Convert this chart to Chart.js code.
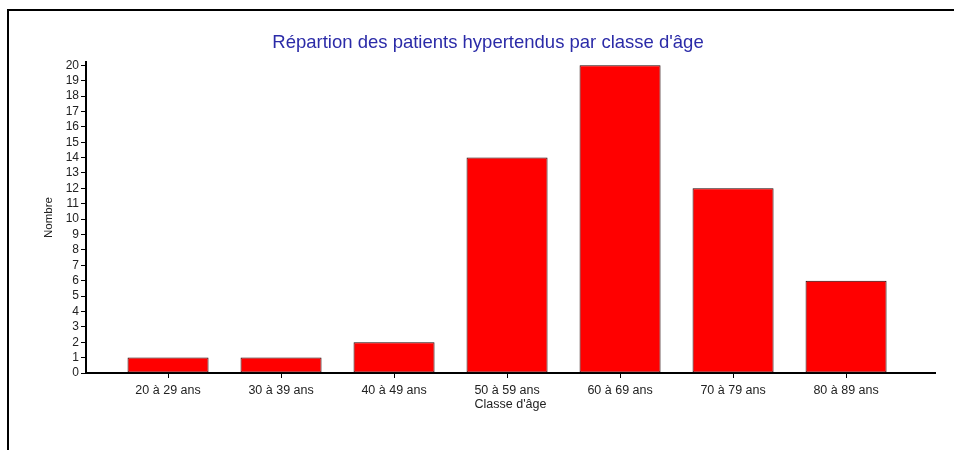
<!DOCTYPE html>
<html lang="fr">
<head>
  <meta charset="UTF-8">
  <title>Répartion des patients hypertendus</title>
  <script src="https://cdn.jsdelivr.net/npm/chart.js"></script>
  <style>
    body { margin: 0; background: #fff; }
    .frame {
      position: absolute; left: 7px; top: 9px; width: 1000px; height: 500px;
      border-left: 2px solid #000; border-top: 2px solid #000;
    }
    .wrap { position: absolute; left: 0; top: 0; width: 954px; height: 450px; }
  </style>
</head>
<body>
  <div class="frame"></div>
  <div class="wrap"><canvas id="ageChart" width="954" height="450"></canvas></div>
  <script>
    const categories = ['20 à 29 ans', '30 à 39 ans', '40 à 49 ans', '50 à 59 ans', '60 à 69 ans', '70 à 79 ans', '80 à 89 ans'];
    const patients = [1, 1, 2, 14, 20, 12, 6];
    const yTicks = [0, 1, 2, 3, 4, 5, 6, 7, 8, 9, 10, 11, 12, 13, 14, 15, 16, 17, 18, 19, 20];

    const font = 'Liberation Sans, Arial, sans-serif';

    const ctx = document.getElementById('ageChart').getContext('2d');
    new Chart(ctx, {
      type: 'bar',
      data: {
        datasets: [{
          label: 'Nombre',
          data: patients.map((v, i) => ({ x: i + 1, y: v })),
          backgroundColor: '#ff0000',
          borderColor: '#200000',
          borderWidth: 1,
          borderSkipped: false,
          barPercentage: 0.717,
          categoryPercentage: 1
        }]
      },
      options: {
        responsive: false,
        animation: false,
        layout: { padding: { left: 41, right: 19, top: 10, bottom: 37 } },
        plugins: {
          legend: { display: false },
          tooltip: { enabled: false },
          title: {
            display: true,
            text: "Répartion des patients hypertendus par classe d'âge",
            color: '#2b2ba8',
            font: { family: font, size: 18.5, weight: 'normal' },
            padding: { top: 22, bottom: 8 }
          }
        },
        scales: {
          x: {
            type: 'linear',
            offset: false,
            min: 0.274,
            max: 7.787,
            afterBuildTicks: axis => { axis.ticks = categories.map((c, i) => ({ value: i + 1 })); },
            afterFit: s => { s.height = 40; },
            ticks: {
              autoSkip: false,
              maxRotation: 0,
              padding: 5,
              color: '#222',
              font: { family: font, size: 12.5 },
              callback: v => categories[v - 1]
            },
            grid: { offset: false, drawOnChartArea: false, drawTicks: true, tickLength: 5, color: '#000' },
            border: { display: true, width: 2, color: '#000' },
            title: {
              display: true,
              text: "Classe d'âge",
              color: '#222',
              font: { family: font, size: 12.5 },
              padding: { top: 0, bottom: 0.5 }
            }
          },
          y: {
            min: yTicks[0],
            max: 20.2,
            afterBuildTicks: axis => { axis.ticks = yTicks.map(v => ({ value: v })); },
            afterFit: s => { s.width = 45; },
            ticks: {
              autoSkip: false,
              padding: 2,
              color: '#222',
              font: { family: font, size: 12 }
            },
            grid: { drawOnChartArea: false, drawTicks: true, tickLength: 5, color: '#000' },
            border: { display: true, width: 2, color: '#000' },
            title: {
              display: true,
              text: 'Nombre',
              color: '#222',
              font: { family: font, size: 11.5 },
              padding: { top: 1, bottom: 0 }
            }
          }
        }
      }
    });
  </script>
</body>
</html>
